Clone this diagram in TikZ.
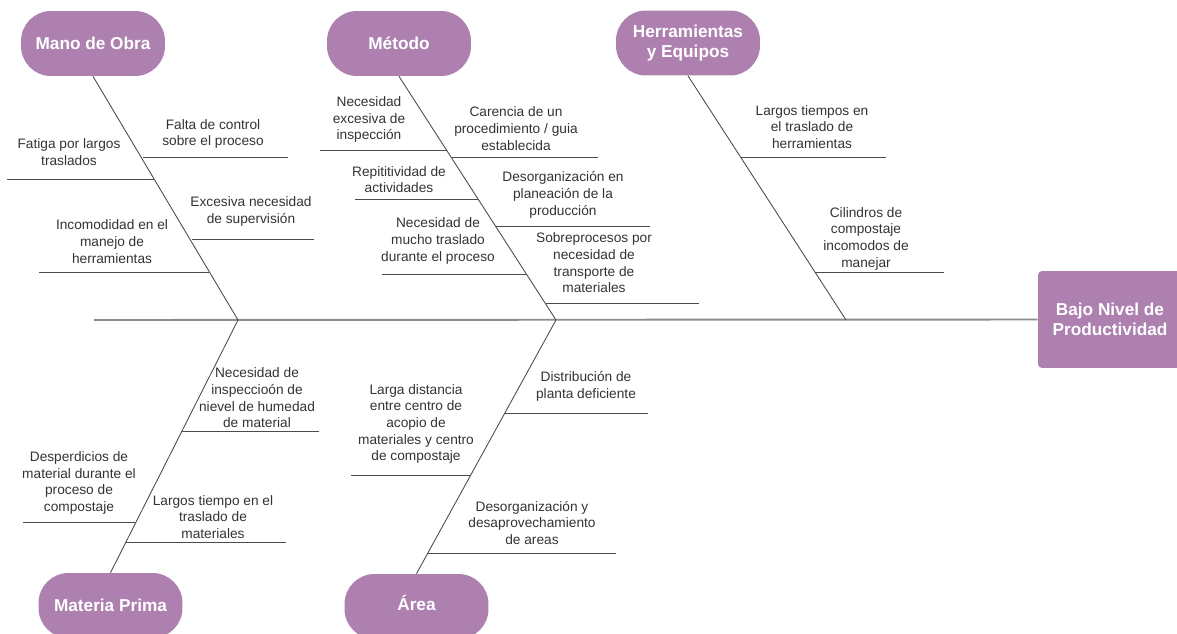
\documentclass[tikz,border=0pt]{standalone}
\usepackage{fontspec}
\setmainfont{Liberation Sans}
\definecolor{fishpurple}{HTML}{AD80B0}
\definecolor{fishtext}{HTML}{333333}
\tikzset{
    header/.style={fill=fishpurple, rounded corners=0.6cm, minimum width=2.88cm,
        minimum height=1.3cm, inner sep=0pt, align=center, text=white,
        font=\bfseries\fontsize{9.8}{11.5}\selectfont},
    effect/.style={fill=fishpurple, rounded corners=0.08cm, minimum width=2.88cm,
        minimum height=1.94cm, inner sep=0pt, align=center, text=white,
        font=\bfseries\fontsize{9.8}{11.3}\selectfont},
    cause/.style={text=fishtext, align=center, inner sep=1pt,
        font=\fontsize{7.8}{9.5}\selectfont},
    spine/.style={draw=black!45, line width=1.1pt},
    bone/.style={draw=black!70, line width=0.5pt},
    twig/.style={draw=black!70, line width=0.5pt}
}
\begin{document}
\begin{tikzpicture}[x=0.02cm,y=-0.02cm]
        \useasboundingbox (0,0) rectangle (1177,633);
        \coordinate (tail) at (94,320);
        \coordinate (J1) at (238,320);
        \coordinate (J2) at (556,320);
        \coordinate (J3) at (846,320);
        \node (mo) at (93,43.5) [header] {Mano de Obra};
        \node (met) at (399,43.5) [header] {Método};
        \node (he) at (688,43) [header] {Herramientas\\y Equipos};
        \node (mp) at (110.5,605.5) [header] {Materia Prima};
        \node (ar) at (416.5,606.5) [header, text height=7.1pt, text depth=2pt] {Área};
        \node (prob) at (1110,319.5) [effect] {Bajo Nivel de\\Productividad};
        \draw[spine] (tail) -- (prob.west);
        \draw[bone] (mo.south) -- (J1);
        \draw[bone] (met.south) -- (J2);
        \draw[bone] (he.south) -- (J3);
        \draw[bone] (mp.north) -- (J1);
        \draw[bone] (ar.north) -- (J2);
        \draw[twig] (143,157) -- (288,157);
        \draw[twig] (7,179) -- (154,179);
        \draw[twig] (192,239) -- (314,239);
        \draw[twig] (39,272) -- (209,272);
        \draw[twig] (320,150) -- (447,150);
        \draw[twig] (452,157) -- (598,157);
        \draw[twig] (355,199) -- (478,199);
        \draw[twig] (496,226) -- (650,226);
        \draw[twig] (382,274) -- (526,274);
        \draw[twig] (546,303) -- (699,303);
        \draw[twig] (741,157) -- (886,157);
        \draw[twig] (815,272) -- (944,272);
        \draw[twig] (182,431) -- (319,431);
        \draw[twig] (23,522) -- (135,522);
        \draw[twig] (126,542) -- (286,542);
        \draw[twig] (505,413) -- (648,413);
        \draw[twig] (351,475) -- (471,475);
        \draw[twig] (428,553) -- (616,553);
        \node (m1) at (213,134) [cause] {Falta de control\\sobre el proceso};
        \node (m2) at (69,152) [cause] {Fatiga por largos\\traslados};
        \node (m3) at (251,211.5) [cause] {Excesiva necesidad\\de supervisión};
        \node (m4) at (112,241.5) [cause] {Incomodidad en el\\manejo de\\herramientas};
        \node (t1) at (369,119.5) [cause] {Necesidad\\excesiva de\\inspección};
        \node (t2) at (516,128.5) [cause] {Carencia de un\\procedimiento / guia\\establecida};
        \node (t3) at (399,179.5) [cause] {Repititividad de\\actividades};
        \node (t4) at (563,195) [cause] {Desorganización en\\planeación de la\\producción};
        \node (t5) at (438,241) [cause] {Necesidad de\\mucho traslado\\durante el proceso};
        \node (t6) at (594,263) [cause] {Sobreprocesos por\\necesidad de\\transporte de\\materiales};
        \node (h1) at (812,127) [cause] {Largos tiempos en\\el traslado de\\herramientas};
        \node (h2) at (866,238.5) [cause] {Cilindros de\\compostaje\\incomodos de\\manejar};
        \node (p1) at (257,398) [cause] {Necesidad de\\inspeccioón de\\nievel de humedad\\de material};
        \node (p2) at (79,483) [cause] {Desperdicios de\\material durante el\\proceso de\\compostaje};
        \node (p3) at (213,517) [cause] {Largos tiempo en el\\traslado de\\materiales};
        \node (a1) at (586,386.5) [cause] {Distribución de\\planta deficiente};
        \node (a2) at (416,424) [cause] {Larga distancia\\entre centro de\\acopio de\\materiales y centro\\de compostaje};
        \node (a3) at (532,523) [cause] {Desorganización y\\desaprovechamiento\\de areas};
\end{tikzpicture}
\end{document}
